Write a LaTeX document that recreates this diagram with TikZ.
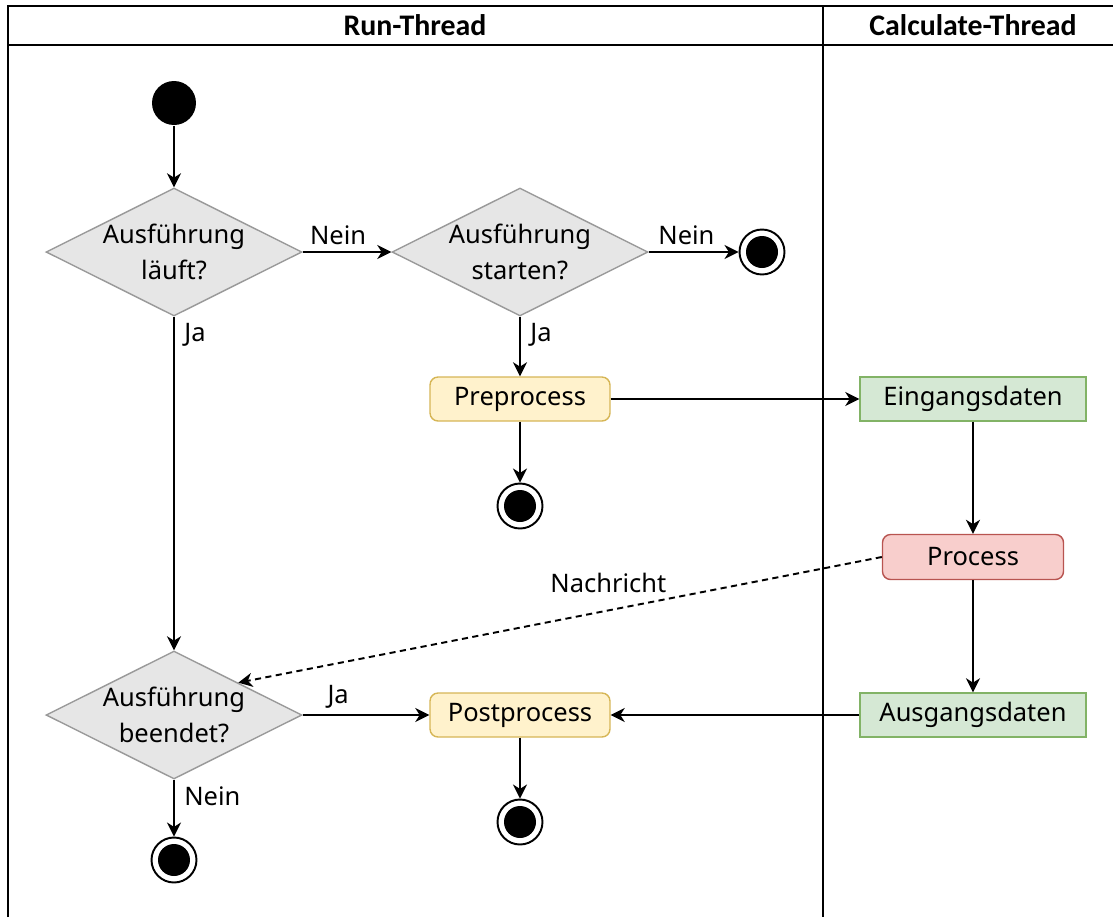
\documentclass[tikz,border=0pt]{standalone}
\usepackage{fontspec}
\setmainfont{Noto Sans}
\newfontfamily\headfont{Carlito}
\usetikzlibrary{arrows.meta,shapes.geometric,positioning}

\definecolor{decfill}{HTML}{E6E6E6}
\definecolor{decline}{HTML}{999999}
\definecolor{actfill}{HTML}{FFF2CC}
\definecolor{actline}{HTML}{D6B656}
\definecolor{datfill}{HTML}{D5E8D4}
\definecolor{datline}{HTML}{82B366}
\definecolor{procfill}{HTML}{F8CECC}
\definecolor{procline}{HTML}{B85450}

\begin{document}
\begin{tikzpicture}[->,>={Stealth[length=8pt,width=8pt,inset=2.5pt]},x=0.02cm,y=-0.02cm,line width=1.1pt,
  every node/.style={font=\fontsize{14.5}{20.5}\selectfont},
  decision/.style={diamond,draw=decline,fill=decfill,line width=0.8pt,aspect=2,
    inner sep=0pt,minimum width=5.12cm,minimum height=2.56cm,align=center},
  actionbox/.style={rectangle,rounded corners=0.16cm,draw=actline,fill=actfill,
    line width=0.8pt,minimum width=3.6cm,minimum height=0.88cm},
  databox/.style={rectangle,draw=datline,fill=datfill,line width=0.8pt,
    minimum width=4.52cm,minimum height=0.88cm},
  procbox/.style={rectangle,rounded corners=0.16cm,draw=procline,fill=procfill,
    line width=0.8pt,minimum width=3.62cm,minimum height=0.9cm},
  startdot/.style={circle,fill=black,inner sep=0pt,minimum size=0.88cm},
  enddot/.style={circle,draw,line width=1.1pt,inner sep=0pt,minimum size=0.9cm,
    path picture={\fill (path picture bounding box.center) circle (0.32cm);}},
  headline/.style={font=\headfont\bfseries\fontsize{17}{20}\selectfont}]

\useasboundingbox (0,0) rectangle (1113,917);

% swimlanes
\draw[-] (8,917) -- (8,6) -- (1130,6);
\draw[-] (8,45) -- (1130,45);
\draw[-] (823,6) -- (823,917);
\node[headline] (runhead) at (415,25) {Run-Thread};
\node[headline] (calchead) at (973,25) {Calculate-Thread};

% run thread
\node[startdot] (start) at (174,103) {};
\node[decision] (laeuft) at (174,252) {Ausführung\\läuft?};
\node[decision] (starten) at (520,252) {Ausführung\\starten?};
\node[enddot] (stop1) at (762,252) {};
\node[actionbox] (pre) at (520,399) {Preprocess};
\node[enddot] (stop2) at (520,506) {};
\node[decision] (beendet) at (174,715) {Ausführung\\beendet?};
\node[actionbox] (post) at (520,715) {Postprocess};
\node[enddot] (stop3) at (520,822) {};
\node[enddot] (stop4) at (174,860) {};

% calculate thread
\node[databox] (eing) at (973,399) {Eingangsdaten};
\node[procbox] (proc) at (973,557) {Process};
\node[databox] (ausg) at (973,715) {Ausgangsdaten};

\path (start) edge (laeuft)
  (laeuft) edge node[above,pos=0.4] {Nein} (starten)
  (starten) edge node[above,pos=0.42] {Nein} (stop1)
  (starten) edge node[anchor=north west,pos=0,xshift=2pt] {Ja} (pre)
  (pre) edge (stop2)
  (pre) edge (eing)
  (eing) edge (proc)
  (proc) edge (ausg)
  (ausg) edge (post)
  (proc.west) edge[dashed,dash pattern=on 3.5pt off 2.5pt]
    node[pos=0.425,above=6pt] {Nachricht} (beendet.north east)
  (laeuft) edge node[anchor=north west,pos=0,xshift=2pt] {Ja} (beendet)
  (beendet) edge node[above,pos=0.28] {Ja} (post)
  (post) edge (stop3)
  (beendet) edge node[anchor=north west,pos=0,xshift=2pt] {Nein} (stop4);

\end{tikzpicture}
\end{document}
